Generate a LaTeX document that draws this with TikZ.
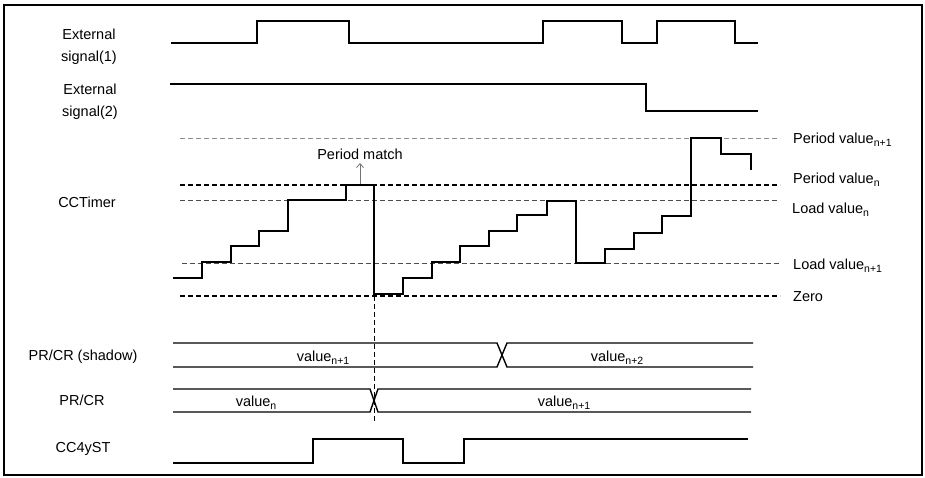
\documentclass[tikz,border=0pt]{standalone}
\usepackage{fontspec}
\setmainfont{Liberation Sans}
\usetikzlibrary{arrows.meta}
\newcommand{\subx}[1]{\raisebox{-3pt}{\fontsize{10.5}{10.5}\selectfont #1}}
\begin{document}
\begin{tikzpicture}[x=1pt,y=-1pt,
  lbl/.style={font=\fontsize{14.5}{22}\selectfont, inner sep=0pt},
  sig/.style={line width=2pt, line join=miter},
  bus/.style={line width=1.4pt},
  refgray/.style={dash pattern=on 5pt off 3pt, line width=1pt, draw=black!45},
  refdark/.style={dash pattern=on 5pt off 3pt, line width=1pt, draw=black!70},
  refblack/.style={dash pattern=on 5pt off 3pt, line width=1.2pt, draw=black},
  matcharrow/.style={-{Straight Barb[length=4pt,width=7pt]}, draw=black!55, line width=0.8pt},
]
\useasboundingbox (0,0) rectangle (925,477);
\draw[line width=1.2pt] (4,5) rectangle (922,475);

% left labels
\node[lbl, align=center] (ext1) at (89,47) {External\\signal(1)};
\node[lbl, align=center] (ext2) at (90,102) {External\\signal(2)};
\node[lbl, anchor=base] (cct) at (87,207) {CCTimer};
\node[lbl, anchor=base] (shl) at (83,360) {PR/CR (shadow)};
\node[lbl, anchor=base] (prl) at (82,405) {PR/CR};
\node[lbl, anchor=base] (stl) at (83,452) {CC4yST};

% right labels
\node[lbl, anchor=base west] (pv1) at (793,143) {Period value\subx{n+1}};
\node[lbl, anchor=base west] (pv0) at (793,183) {Period value\subx{n}};
\node[lbl, anchor=base west] (lv0) at (792,213) {Load value\subx{n}};
\node[lbl, anchor=base west] (lv1) at (793,269) {Load value\subx{n+1}};
\node[lbl, anchor=base west] (zer) at (793,301) {Zero};

% reference levels
\draw[refgray] (180,138) -- (780,138);
\draw[refblack] (180,185) -- (780,185);
\draw[refdark] (180,200) -- (780,200);
\draw[refdark] (182,263) -- (780,263);
\draw[refblack] (180,296) -- (780,296);

% period match
\node[lbl, anchor=base] (pm) at (360,159) {Period match};
\coordinate (pmfoot) at (360,184);
\draw[matcharrow] (pmfoot) -- (360,163);

% external signals
\draw[sig] (171,43) -| (257,21) -| (349,43) -| (543,21) -| (622,43) -| (657,21) -| (735,43) -- (758,43);
\draw[sig] (170,84) -| (646,111) -- (758,111);

% CCTimer staircase
\draw[sig] (173,278) -| (202,262) -| (231,246) -| (259,231) -| (288,200) -| (346,185) -| (374,294)
  -| (403,278) -| (432,262) -| (460,246) -| (489,231) -| (517,215) -| (547,201) -| (576,263)
  -| (605,249) -| (634,233) -| (662,216) -| (691,138) -| (721,154) -| (751,170);

% vertical marker
\coordinate (vtop) at (374,296);
\coordinate (vbot) at (374,423);
\draw[refblack, line width=1pt] (vtop) -- (vbot);

% PR/CR (shadow) bus
\draw[bus] (173,343) -- (497,343) -- (507,367) -- (753,367);
\draw[bus] (173,367) -- (497,367) -- (507,343) -- (753,343);
\node[lbl, anchor=base] (sv1) at (323,361) {value\subx{n+1}};
\node[lbl, anchor=base] (sv2) at (617,361) {value\subx{n+2}};

% PR/CR bus
\draw[bus] (173,389) -- (370,389) -- (378,412) -- (751,412);
\draw[bus] (173,412) -- (370,412) -- (378,389) -- (751,389);
\node[lbl, anchor=base] (pv) at (256,406) {value\subx{n}};
\node[lbl, anchor=base] (pvn) at (564,406) {value\subx{n+1}};

% CC4yST
\draw[sig] (173,463) -| (313,439) -| (403,463) -| (464,439) -- (748,439);
\end{tikzpicture}
\end{document}
